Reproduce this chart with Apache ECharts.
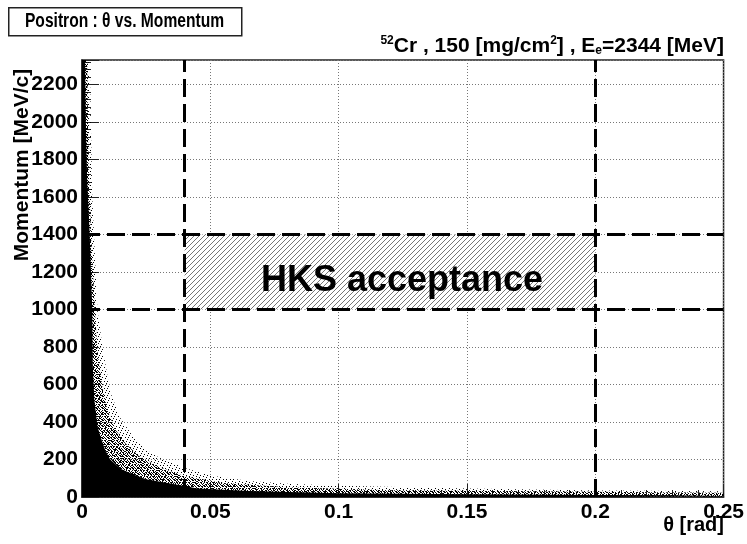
<!DOCTYPE html>
<html>
<head>
<meta charset="utf-8">
<script src="https://cdn.jsdelivr.net/npm/echarts@6/dist/echarts.min.js"></script>
<style>html,body{margin:0;padding:0;background:#fff}#c{width:747px;height:544px}</style>
</head>
<body>
<div id="c"></div>
<script>
// ---- data ----
// dense core of the positron distribution: upper envelope (theta [rad], momentum [MeV/c])
const coreTheta    = [0, 0.0012, 0.0015, 0.002, 0.003, 0.004, 0.0042, 0.0048, 0.006, 0.007, 0.009, 0.011, 0.015, 0.020, 0.025, 0.035, 0.045, 0.065, 0.10, 0.15, 0.20, 0.25];
const coreMomentum = [2330, 2330, 2000, 1700, 1400, 1000, 700, 520, 380, 330, 250, 200, 150, 120, 95, 70, 45, 32, 20, 14, 11, 9];
// medium density band
const midTheta     = [0, 0.002, 0.0025, 0.0035, 0.005, 0.006, 0.008, 0.010, 0.013, 0.017, 0.022, 0.030, 0.040, 0.055, 0.080, 0.12, 0.25];
const midMomentum  = [2330, 2330, 1800, 1400, 1000, 780, 580, 460, 360, 285, 220, 160, 110, 75, 52, 36, 22];
// sparse halo
const haloTheta    = [0, 0.003, 0.004, 0.005, 0.006, 0.008, 0.011, 0.015, 0.020, 0.025, 0.030, 0.040, 0.050, 0.065, 0.080, 0.10, 0.15, 0.20, 0.25];
const haloMomentum = [2330, 2330, 1600, 1300, 1000, 800, 560, 420, 320, 250, 210, 155, 115, 85, 70, 60, 45, 35, 30];
// HKS acceptance cuts
const cutTheta    = [0.04, 0.2];
const cutMomentum = [1000, 1400];
// axes
const xMin = 0, xMax = 0.25, xStep = 0.05;
const yMin = 0, yMax = 2330, yStep = 200;

function pairs(xs, ys) { return xs.map((x, i) => [x, ys[i]]); }

function dither(cells, size) {
  const c = document.createElement('canvas');
  c.width = size; c.height = size;
  const g = c.getContext('2d');
  g.fillStyle = '#000';
  cells.forEach(p => g.fillRect(p[0], p[1], 1, 1));
  return c;
}
const haloPattern = dither([[0,0],[3,1],[6,3],[1,5],[4,6],[2,3]], 7);
const midPattern = dither([[0,0],[1,0],[3,0],[4,1],[0,2],[2,2],[3,3],[5,3],[1,4],[4,4],[2,5],[5,5],[0,5],[3,2]], 6);

const hatch = (function () {
  const c = document.createElement('canvas');
  c.width = 5; c.height = 5;
  const g = c.getContext('2d');
  g.fillStyle = '#fff'; g.fillRect(0, 0, 5, 5);
  g.strokeStyle = '#666'; g.lineWidth = 0.9;
  g.beginPath();
  g.moveTo(-1, 6); g.lineTo(6, -1);
  g.moveTo(-1, 1); g.lineTo(1, -1);
  g.moveTo(4, 6); g.lineTo(6, 4);
  g.stroke();
  return c;
})();

const F = 'Liberation Sans, Arial, sans-serif';
const chart = echarts.init(document.getElementById('c'), null, { renderer: 'canvas' });
chart.setOption({
  backgroundColor: '#fff',
  animation: false,
  grid: { left: 82, right: 20, top: 60, bottom: 47, show: true, borderColor: '#222', borderWidth: 1.5, backgroundColor: 'transparent' },
  xAxis: {
    type: 'value', min: xMin, max: xMax, interval: xStep,
    axisLine: { show: true, lineStyle: { color: '#222', width: 1.5 } },
    axisTick: { show: true, inside: true, length: 13, lineStyle: { color: '#222' } },
    minorTick: { show: true, splitNumber: 5, length: 7, lineStyle: { color: '#222' } },
    splitLine: { show: true, lineStyle: { color: '#777', type: [1, 2], width: 1 } },
    axisLabel: { color: '#000', fontFamily: F, fontWeight: 'bold', fontSize: 21, margin: 5,
      formatter: v => String(+v.toFixed(3)) }
  },
  yAxis: {
    type: 'value', min: yMin, max: yMax, interval: yStep,
    axisLine: { show: true, lineStyle: { color: '#222', width: 1.5 } },
    axisTick: { show: true, inside: true, length: 17, lineStyle: { color: '#222' } },
    minorTick: { show: true, splitNumber: 5, length: 9, lineStyle: { color: '#222' } },
    splitLine: { show: true, lineStyle: { color: '#777', type: [1, 2], width: 1 } },
    axisLabel: { color: '#000', fontFamily: F, fontWeight: 'bold', fontSize: 21, margin: 4, showMaxLabel: false,
      formatter: v => (v % yStep === 0 ? String(v) : '') }
  },
  series: [
    {
      type: 'line', name: 'halo', data: pairs(haloTheta, haloMomentum), showSymbol: false, silent: true,
      lineStyle: { width: 0 }, areaStyle: { color: { image: haloPattern, repeat: 'repeat' }, opacity: 1 }, z: 2,
      markArea: {
        silent: true,
        itemStyle: { color: { image: hatch, repeat: 'repeat' }, opacity: 1 },
        label: { show: true, position: 'inside', formatter: 'HKS acceptance', color: '#000',
          fontFamily: F, fontWeight: 'bold', fontSize: 36, offset: [12, 9] },
        data: [[{ xAxis: cutTheta[0], yAxis: cutMomentum[0] }, { xAxis: cutTheta[1], yAxis: cutMomentum[1] }]]
      }
    },
    {
      type: 'line', name: 'mid', data: pairs(midTheta, midMomentum), showSymbol: false, silent: true,
      lineStyle: { width: 0 }, areaStyle: { color: { image: midPattern, repeat: 'repeat' }, opacity: 1 }, z: 3
    },
    {
      type: 'line', name: 'core', data: pairs(coreTheta, coreMomentum), showSymbol: false, silent: true,
      lineStyle: { width: 0 }, areaStyle: { color: '#000', opacity: 1 }, z: 4,
      markLine: {
        silent: true, symbol: ['none', 'none'], label: { show: false },
        lineStyle: { color: '#000', width: 3, type: [18, 7] },
        data: [{ xAxis: cutTheta[0] }, { xAxis: cutTheta[1] }, { yAxis: cutMomentum[0] }, { yAxis: cutMomentum[1] }]
      }
    }
  ],
  graphic: [
    { type: 'rect', left: 8, top: 7, shape: { width: 233, height: 28 }, style: { fill: '#fff', stroke: '#222', lineWidth: 1.5 } },
    { type: 'text', x: 124.5, y: 21, scaleX: 0.78, style: { text: 'Positron : θ vs. Momentum', font: 'bold 20px ' + F, fill: '#000', align: 'center', verticalAlign: 'middle' } },
    { type: 'text', x: 724, y: 46, style: {
        text: '{sup|52}Cr , 150 [mg/cm{sup|2}] , E{sub|e}=2344 [MeV]', font: 'bold 21px ' + F, fill: '#000', align: 'right', verticalAlign: 'middle',
        rich: { sup: { fontSize: 12, fontWeight: 'bold', fontFamily: F, verticalAlign: 'top', padding: [0, 0, 9, 0] },
                sub: { fontSize: 12, fontWeight: 'bold', fontFamily: F, verticalAlign: 'bottom', padding: [10, 0, 0, 0] } } } },
    { type: 'text', x: 22, y: 165, rotation: Math.PI / 2, style: { text: 'Momentum [MeV/c]', font: 'bold 21px ' + F, fill: '#000', align: 'center', verticalAlign: 'middle' } },
    { type: 'text', x: 724, y: 525, style: { text: 'θ [rad]', font: 'bold 20px ' + F, fill: '#000', align: 'right', verticalAlign: 'middle' } }
  ]
});
</script>
</body>
</html>
